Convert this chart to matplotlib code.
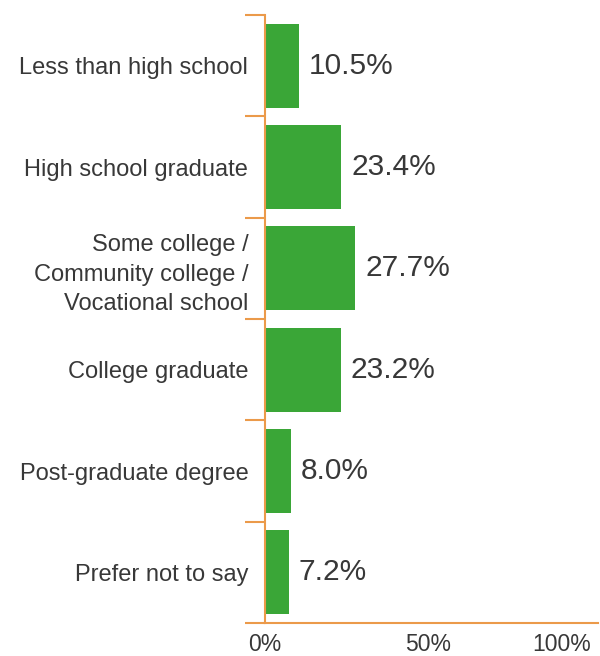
import numpy as np
import matplotlib.pyplot as plt

plt.rcParams['font.family'] = ['Liberation Sans', 'DejaVu Sans']

categories = ['Less than high school', 'High school graduate',
              'Some college /\nCommunity college /\nVocational school',
              'College graduate', 'Post-graduate degree', 'Prefer not to say']
shares = [10.5, 23.4, 27.7, 23.2, 8.0, 7.2]
xticks = [0, 50, 100]

orange = '#eb9a4a'
green = '#3aa637'
textc = '#383838'

fig = plt.figure(figsize=[6.0, 6.56], dpi=100)
ax = fig.add_axes([0.4417, 0.0503, 0.555, 0.9268])

y = np.arange(len(categories))
ax.barh(y, shares, height=0.83, color=green, edgecolor='none')
for yi, v in zip(y, shares):
    ax.text(v + 3.0, yi, '{:.1f}%'.format(v), va='center', ha='left',
            fontsize=21.5, color=textc)

ax.set_xlim(0, 102)
ax.set_ylim(len(categories) - 0.5, -0.5)
ax.set_yticks(y)
ax.set_yticklabels(categories, fontsize=17, color=textc, linespacing=1.45)
ax.set_yticks(np.arange(len(categories) + 1) - 0.5, minor=True)
ax.tick_params(axis='y', which='major', length=0, pad=12)
ax.tick_params(axis='y', which='minor', length=14.5, width=1.5, color=orange)
ax.set_xticks(xticks)
ax.set_xticklabels(['{}%'.format(t) for t in xticks], fontsize=16.5, color=textc)
ax.get_xticklabels()[-1].set_horizontalalignment('right')
ax.tick_params(axis='x', length=0, pad=7)

for side in ['top', 'right']:
    ax.spines[side].set_visible(False)
for side in ['left', 'bottom']:
    ax.spines[side].set_color(orange)
    ax.spines[side].set_linewidth(1.5)

fig.savefig('out.png', dpi=100)
